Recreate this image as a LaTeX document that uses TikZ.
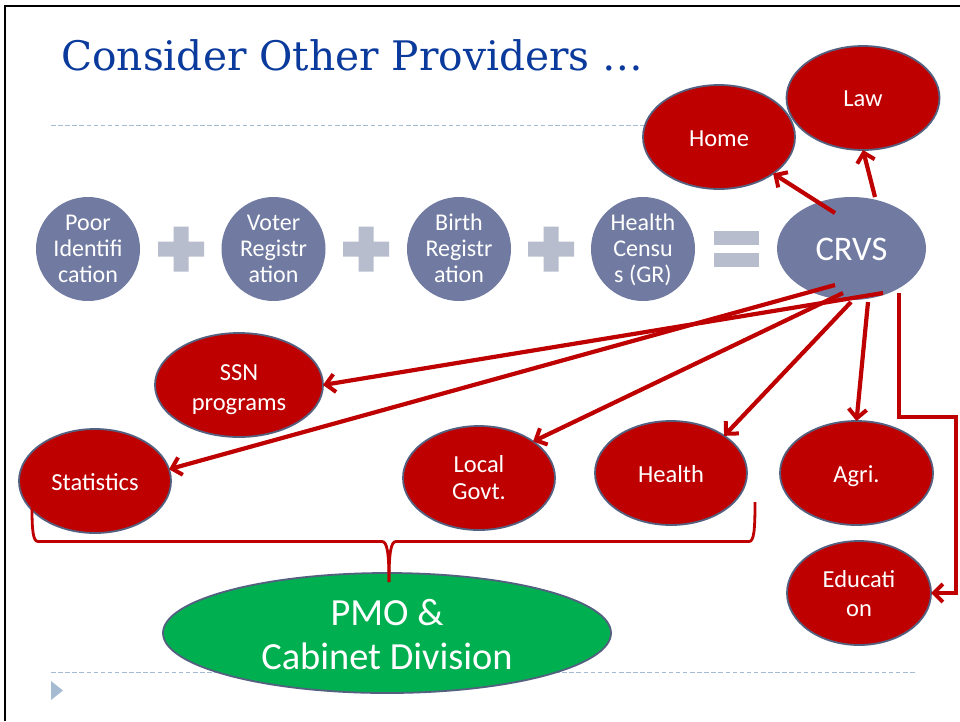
\documentclass[tikz,border=0pt]{standalone}
\usepackage{fontspec}
\setmainfont{Carlito}
\newfontfamily\titlefont{DejaVu Serif}
\usetikzlibrary{shapes.geometric,arrows.meta}
\definecolor{slate}{HTML}{717BA2}
\definecolor{pale}{HTML}{B8BDCE}
\definecolor{crimson}{HTML}{BE0000}
\definecolor{rim}{HTML}{54607F}
\definecolor{leaf}{HTML}{00B050}
\definecolor{rule}{HTML}{A5BBD2}
\definecolor{titleblue}{HTML}{0A3A9C}
\newcommand{\lines}[3]{\raisebox{#1}[0pt][0pt]{\def\arraystretch{#2}\begin{tabular}{@{}c@{}}#3\end{tabular}}}
\tikzset{
  x=1pt,y=-1pt,
  base/.style={ellipse,inner sep=0pt,outer sep=0pt,text=white},
  disc/.style={base,fill=slate,minimum width=104pt,minimum height=104pt,font=\fontsize{24}{26}\selectfont},
  crvsnode/.style={base,fill=slate,minimum width=149pt,minimum height=103pt,font=\fontsize{34.5}{36}\selectfont},
  rednode/.style={base,fill=crimson,draw=rim,line width=1.8pt,minimum width=152pt,minimum height=104pt,font=\fontsize{24.5}{29.5}\selectfont},
  pmonode/.style={base,fill=leaf,draw=rim,line width=1.8pt,minimum width=448pt,minimum height=120pt,font=\fontsize{38.4}{44}\selectfont},
  link/.style={crimson,line width=4.2pt,-{Straight Barb[length=9pt,width=18pt,line width=4pt]}},
  bracket/.style={crimson,line width=2.8pt},
  dashrule/.style={rule,line width=0.9pt,dash pattern=on 4.5pt off 2.6pt},
  paleshape/.style={fill=pale,draw=none}
}
\newcommand{\plusmark}[1]{\fill[paleshape,shift={(#1,249)}] (-7.5,-22.5)--(7.5,-22.5)--(7.5,-7.5)--(23,-7.5)--(23,7.5)--(7.5,7.5)--(7.5,22.5)--(-7.5,22.5)--(-7.5,7.5)--(-23,7.5)--(-23,-7.5)--(-7.5,-7.5)--cycle;}
\begin{document}
\begin{tikzpicture}
\useasboundingbox (0,0) rectangle (960,721);
\fill[white] (0,0) rectangle (960,721);
\draw[black,line width=2.4pt] (5,721)--(5,6)--(960,6);
\draw[dashrule] (51,125.5)--(645,125.5);
\draw[dashrule] (51,672.5)--(915,672.5);
\fill[rule] (51,681)--(63,690.5)--(51,700)--cycle;
\node[anchor=base west,inner sep=0pt,text=titleblue,font=\titlefont\fontsize{40.7}{44}\selectfont] (title) at (61,70.5) {Consider Other Providers \dots};
% top row
\node[disc] (poor) at (88,249) {\lines{-9pt}{1}{Poor\\Identifi\\cation}};
\node[disc] (voter) at (273.5,249) {\lines{-9pt}{1}{Voter\\Registr\\ation}};
\node[disc] (birth) at (459,249) {\lines{-9pt}{1}{Birth\\Registr\\ation}};
\node[disc] (census) at (643,249) {\lines{-9pt}{1}{Health\\Censu\\s (GR)}};
\plusmark{181}\plusmark{366}\plusmark{551}
\fill[paleshape] (714,231) rectangle (759,245);
\fill[paleshape] (714,253) rectangle (759,267);
\node[crvsnode] (crvs) at (851.5,248.5) {\lines{-11pt}{1}{CRVS}};
% red
\node[rednode] (home) at (719,137) {\lines{-10pt}{1}{Home}};
\node[rednode,minimum width=153pt] (law) at (863,98) {\lines{-9pt}{1}{Law}};
\node[rednode,minimum width=168pt] (ssn) at (239,385) {\lines{-10.6pt}{1}{SSN\\programs}};
\node[rednode] (stats) at (95,481) {\lines{-10pt}{1}{Statistics}};
\node[rednode] (local) at (479,478) {\lines{-9pt}{0.915}{Local\\Govt.}};
\node[rednode] (health) at (671,473) {\lines{-10pt}{1}{Health}};
\node[rednode,minimum width=153pt] (agri) at (856.5,473) {\lines{-10pt}{1}{Agri.}};
\node[rednode,minimum width=144pt] (edu) at (859,593) {\lines{-9pt}{0.983}{Educati\\on}};
\node[pmonode] (pmo) at (387,633) {\lines{-12pt}{1}{PMO \&\\Cabinet Division}};
% free ends
\coordinate (sHome) at (835,213);
\coordinate (sLaw) at (875,197);
\coordinate (sStats) at (835,285);
\coordinate (sSsn) at (883,293);
\coordinate (sLocal) at (843,293);
\coordinate (sHealth) at (851,302);
\coordinate (sAgri) at (868,302);
\coordinate (sEdu) at (899,293);
\coordinate (bL) at (32,508);
\coordinate (bR) at (755,502);
\coordinate (bM) at (389,582);
% connectors
\draw[link] (sHome)--(home.-34.6);
\draw[link] (sLaw)--(law.south);
\draw[link] (sStats)--(stats.9.6);
\draw[link] (sSsn)--(ssn.east);
\draw[link] (sLocal)--(local.34.6);
\draw[link] (sHealth)--(health.35);
\draw[link] (sAgri)--(agri.north);
\draw[link] (sEdu)--(899,417)--(956,417)--(956,593)--(edu.east);
% brace
\draw[bracket] (bL) .. controls (32,530) and (33,541.5) .. (38,541.5) -- (382,541.5) .. controls (387,541.5) and (389,552) .. (bM);
\draw[bracket] (bR) .. controls (755,530) and (754,541.5) .. (749,541.5) -- (396,541.5) .. controls (391,541.5) and (389,552) .. (bM);
\end{tikzpicture}
\end{document}
